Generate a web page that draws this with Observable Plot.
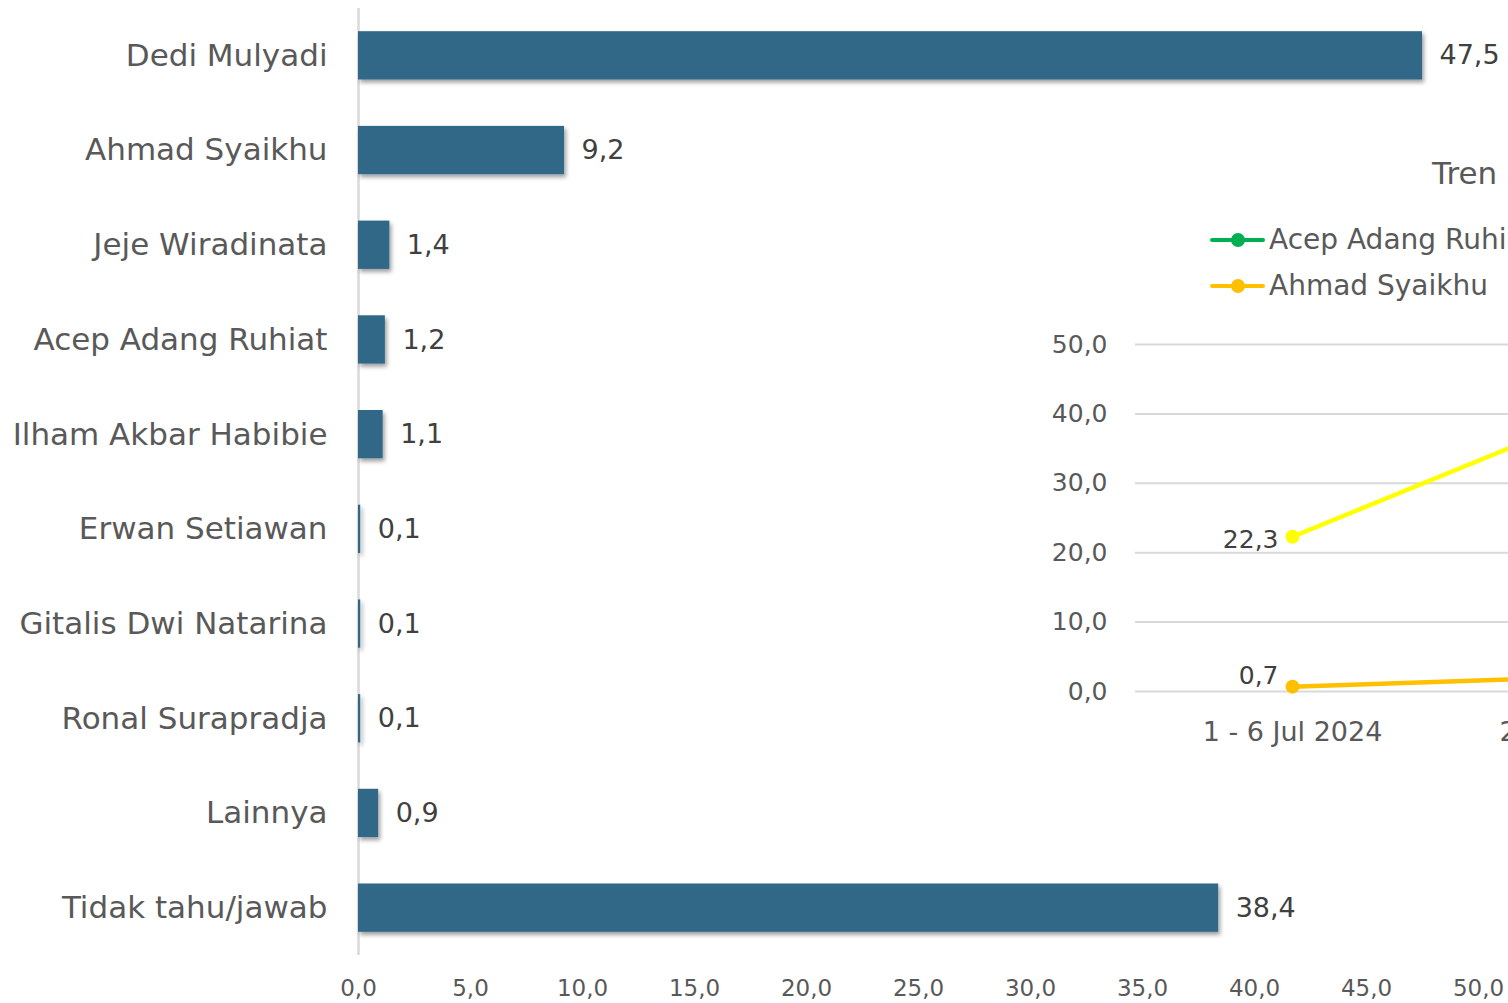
<!DOCTYPE html>
<html>
<head>
<meta charset="utf-8">
<script src="https://cdn.jsdelivr.net/npm/d3@7"></script>
<script src="https://cdn.jsdelivr.net/npm/@observablehq/plot@0.6"></script>
<style>
  html, body { margin: 0; padding: 0; background: #fff; overflow: hidden; }
  #wrap { position: relative; width: 1508px; height: 1003px; overflow: hidden; font-family: "DejaVu Sans", sans-serif; }
  #bars, #inset { position: absolute; }
  #bars { left: 0; top: 0; width: 1508px; height: 1003px; }
  #inset { left: 1000px; top: 300px; width: 900px; height: 470px; }
  svg { max-width: none !important; }
  .title { position: absolute; left: 1432px; top: 155px; font-size: 31px; line-height: 36px; color: #595959; white-space: nowrap; }
  .leg { position: absolute; left: 1210px; height: 34px; white-space: nowrap; font-size: 28px; line-height: 34px; color: #595959; }
  .leg .sw { position: absolute; left: 0; top: 15px; width: 55px; height: 4px; border-radius: 2px; }
  .leg .dt { position: absolute; left: 21px; top: 10px; width: 14px; height: 14px; border-radius: 50%; }
  .leg .tx { position: absolute; left: 59px; top: 0; }
</style>
</head>
<body>
<div id="wrap">
  <div id="bars"></div>
  <div id="inset"></div>
  <div class="title">Tren Elektabilitas</div>
  <div id="legend"></div>
</div>
<script>
// ---- Bar chart data ----
const categories = ["Dedi Mulyadi", "Ahmad Syaikhu", "Jeje Wiradinata", "Acep Adang Ruhiat", "Ilham Akbar Habibie", "Erwan Setiawan", "Gitalis Dwi Natarina", "Ronal Surapradja", "Lainnya", "Tidak tahu/jawab"];
const values = [47.5, 9.2, 1.4, 1.2, 1.1, 0.1, 0.1, 0.1, 0.9, 38.4];
const xTicks = [0, 5, 10, 15, 20, 25, 30, 35, 40, 45, 50];

// ---- Trend inset data ----
const periods = ["1 - 6 Jul 2024", "22 - 28 Jul 2024"];
const seriesNames = ["Acep Adang Ruhiat", "Ahmad Syaikhu", "Dedi Mulyadi"];
const seriesColors = ["#00B050", "#FFC000", "#FFFF00"];
const trendAcep = [null, 1.2];
const trendSyaikhu = [0.7, 2.2];
const trendDedi = [22.3, 40.8];
const trendTicks = [0, 10, 20, 30, 40, 50];
const legendNames = ["Acep Adang Ruhiat", "Ahmad Syaikhu"];
const legendColors = ["#00B050", "#FFC000"];

const fmt = v => d3.format(".1f")(v).replace(".", ",");

const barData = categories.map((c, i) => ({category: c, value: values[i]}));

const bars = Plot.plot({
  width: 1508,
  height: 1003,
  marginLeft: 358,
  marginRight: 30,
  marginTop: 8,
  marginBottom: 48,
  style: {fontFamily: "DejaVu Sans, sans-serif", background: "transparent", overflow: "visible"},
  x: {domain: [0, 50], axis: null},
  y: {domain: categories, paddingInner: 0.49, paddingOuter: 0.245, round: false, axis: null},
  marks: [
    Plot.ruleX([0], {stroke: "#d9d9d9", strokeWidth: 2.5}),
    Plot.barX(barData, {x: "value", y: "category", fill: "#316887"}),
    Plot.text(barData, {x: "value", y: "category", text: d => fmt(d.value), textAnchor: "start", dx: 17, fontSize: 27, fill: "#404040"}),
    Plot.axisY({tickSize: 0, tickPadding: 31, fontSize: 31, color: "#595959", label: null}),
    Plot.axisX({ticks: xTicks, tickFormat: fmt, tickSize: 0, tickPadding: 24, fontSize: 23, color: "#595959", label: null})
  ]
});
// drop shadow for bars
const bsvg = d3.select(bars);
bsvg.insert("defs", ":first-child").html('<filter id="sh" x="-20%" y="-30%" width="140%" height="180%"><feDropShadow dx="2" dy="3" stdDeviation="2" flood-color="#000" flood-opacity="0.38"/></filter>');
bsvg.selectAll('g[aria-label="bar"]').attr("filter", "url(#sh)");
document.getElementById("bars").appendChild(bars);

// ---- Inset line chart ----
const trendSeries = [trendAcep, trendSyaikhu, trendDedi];
const trendData = [];
seriesNames.forEach((name, s) => {
  periods.forEach((p, i) => {
    const v = trendSeries[s][i];
    if (v != null) trendData.push({series: name, period: p, value: v});
  });
});

const inset = Plot.plot({
  width: 900,
  height: 470,
  marginLeft: 135,
  marginRight: 0,
  marginTop: 44,
  marginBottom: 79,
  style: {fontFamily: "DejaVu Sans, sans-serif", background: "transparent", overflow: "visible", maxWidth: "none"},
  x: {type: "point", domain: periods, range: [292, 606], padding: 0, axis: null},
  y: {domain: [0, 50], axis: null},
  color: {domain: seriesNames, range: seriesColors},
  marks: [
    Plot.ruleY(trendTicks, {stroke: "#d9d9d9", strokeWidth: 2}),
    Plot.axisY({ticks: trendTicks, tickFormat: fmt, tickSize: 0, tickPadding: 28, fontSize: 25, color: "#595959", label: null}),
    Plot.axisX({tickSize: 0, tickPadding: 30, fontSize: 27, color: "#595959", label: null}),
    Plot.line(trendData, {x: "period", y: "value", z: "series", stroke: d => d.series, strokeWidth: 4.5}),
    Plot.dot(trendData, {x: "period", y: "value", fill: d => d.series, r: 7}),
    Plot.text(trendData.filter(d => d.series === "Dedi Mulyadi"), {x: "period", y: "value", text: d => fmt(d.value), textAnchor: "end", dx: -14, dy: 3, fontSize: 25, fill: "#404040"}),
    Plot.text(trendData.filter(d => d.series !== "Dedi Mulyadi"), {x: "period", y: "value", text: d => fmt(d.value), textAnchor: "end", dx: -14, dy: -11, fontSize: 25, fill: "#404040"})
  ]
});
document.getElementById("inset").appendChild(inset);

// ---- Legend ----
const legend = document.getElementById("legend");
legendNames.forEach((name, i) => {
  const item = document.createElement("div");
  item.className = "leg";
  item.style.top = (223 + i * 46) + "px";
  item.innerHTML = `<div class="sw" style="background:${legendColors[i]}"></div><div class="dt" style="background:${legendColors[i]}"></div><div class="tx">${name}</div>`;
  legend.appendChild(item);
});
</script>
</body>
</html>
